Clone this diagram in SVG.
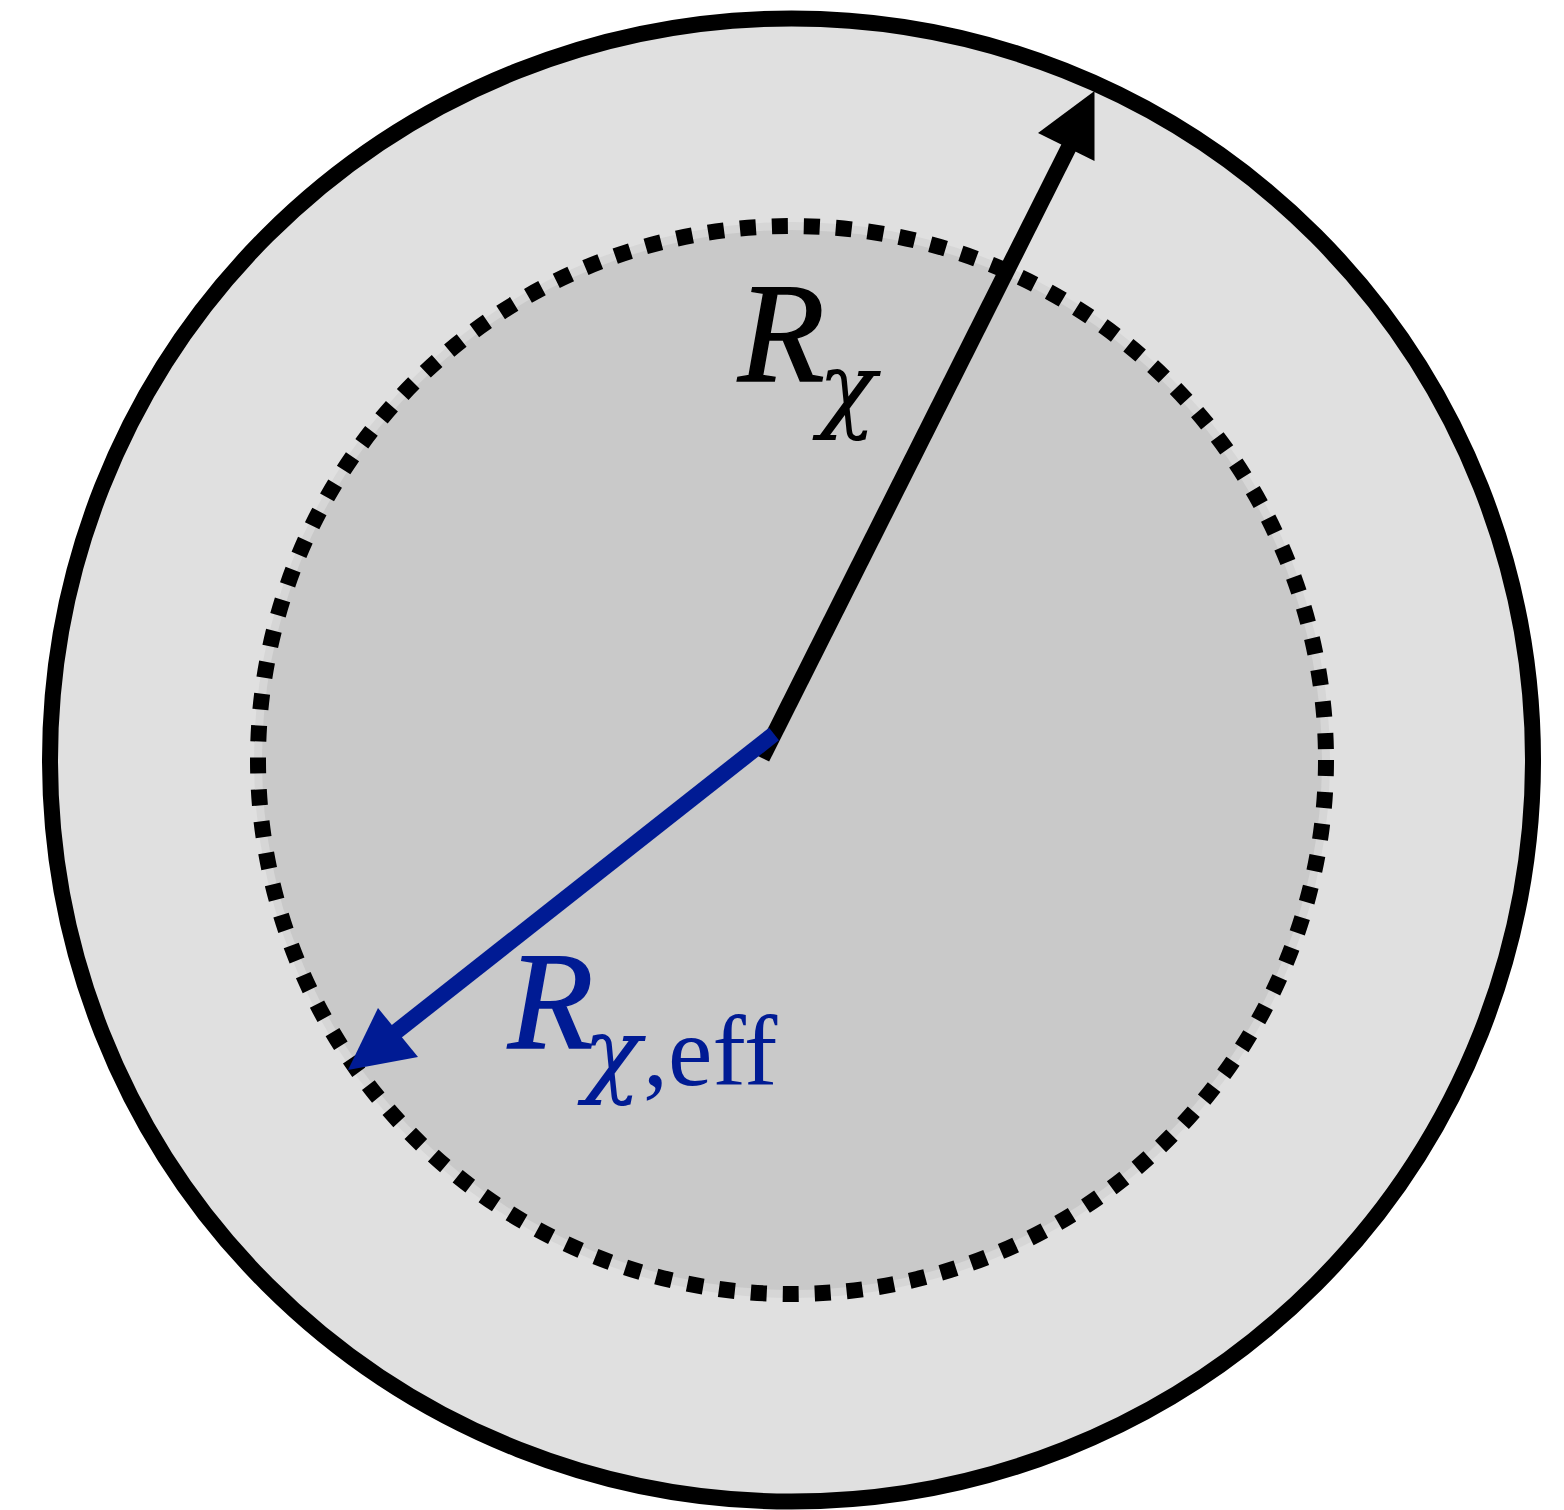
<svg xmlns="http://www.w3.org/2000/svg" width="1564" height="1510" viewBox="0 0 1564 1510">
  <style>
    .lbl { font-family: "Liberation Serif", "Times New Roman", serif; }
    .it { font-style: italic; }
    .chi { font-family: "DejaVu Serif", "Liberation Serif", serif; font-style: italic; }
  </style>
  <rect width="1564" height="1510" fill="#ffffff"/>
  <g id="outer-circle">
    <circle cx="791.5" cy="760" r="741.5" fill="#e0e0e0" stroke="#000000" stroke-width="16"/>
  </g>
  <g id="inner-circle">
    <circle cx="792" cy="760" r="534" fill="#c9c9c9" stroke="#d6d6d6" stroke-width="8"/>
    <circle cx="792" cy="760" r="534" fill="none" stroke="#000000" stroke-width="16" stroke-dasharray="16 16"/>
  </g>
  <g id="connectors">
    <g id="arrow-r-chi">
      <line x1="762" y1="758" x2="1072" y2="141" stroke="#000000" stroke-width="16"/>
      <polygon points="1094.5,91 1038,133 1094.5,161" fill="#000000"/>
    </g>
    <g id="arrow-r-eff">
      <line x1="774" y1="734" x2="392" y2="1035" stroke="#001b94" stroke-width="16"/>
      <polygon points="348,1070 378,1008 418,1057" fill="#001b94"/>
    </g>
  </g>
  <g id="label-r-chi">
    <text class="lbl it" x="738" y="381" font-size="142" fill="#000000" stroke="#000000" stroke-width="1.5">R</text>
    <text class="chi" x="818" y="420" font-size="96" fill="#000000">χ</text>
  </g>
  <g id="label-r-eff">
    <text class="lbl it" x="508" y="1048" font-size="140" fill="#001b94" stroke="#001b94" stroke-width="1.5">R</text>
    <text class="chi" x="583" y="1085" font-size="96" fill="#001b94">χ</text>
    <text class="lbl" x="643" y="1085" font-size="100" fill="#001b94">,eff</text>
  </g>
</svg>
